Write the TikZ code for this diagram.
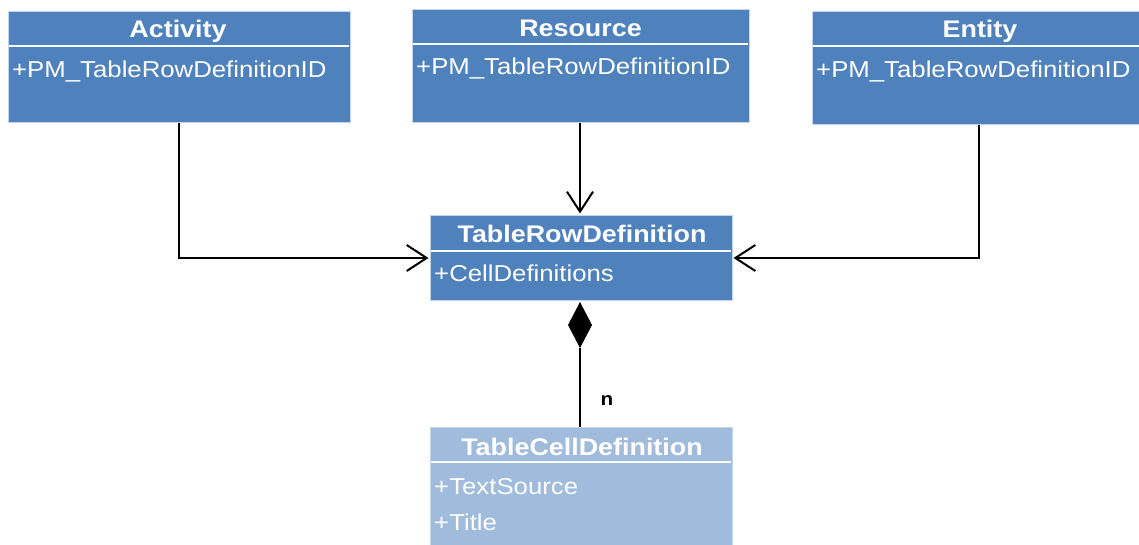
\documentclass[tikz,border=0pt]{standalone}
\usepackage{fontspec}
\setmainfont{Liberation Sans}[FakeStretch=1.12]
\usetikzlibrary{arrows.meta}
\definecolor{umlblue}{HTML}{4F81BD}
\definecolor{umllight}{HTML}{A0BBDC}
\definecolor{umledge}{HTML}{C6D6EA}
\tikzset{
  cls/.style={draw=umledge, line width=0.8pt, fill=umlblue, anchor=north west, inner sep=0pt},
  lcls/.style={cls, fill=umllight},
  divider/.style={draw=white, line width=2pt},
  hdr/.style={text=white, font=\fontsize{24}{24}\selectfont\bfseries, anchor=base, inner sep=0pt},
  attr/.style={text=white, font=\fontsize{23}{23}\selectfont, anchor=base west, inner sep=0pt},
  conn/.style={draw=black, line width=2pt},
  opentip/.style={-{Straight Barb[length=20pt,width=26pt,line width=2pt]}},
  mult/.style={font=\fontsize{18.5}{18.5}\selectfont\bfseries, anchor=base, inner sep=0pt}
}
\begin{document}
\begin{tikzpicture}[x=1pt,y=-1pt]
\useasboundingbox (0,0) rectangle (1139,545);
% Activity
\node[cls, minimum width=342pt, minimum height=111pt] (act) at (8,11) {};
\draw[divider] (9,46) -- (349,46);
\node[hdr] (acth) at (178,37.3) {Activity};
\node[attr] (acta) at (12,77.3) {+PM\_TableRowDefinitionID};
% Resource
\node[cls, minimum width=337pt, minimum height=113pt] (res) at (412,9) {};
\draw[divider] (413,44) -- (748,44);
\node[hdr] (resh) at (580.5,36.7) {Resource};
\node[attr] (resa) at (416,75) {+PM\_TableRowDefinitionID};
% Entity
\node[cls, minimum width=330pt, minimum height=113pt] (ent) at (812,11) {};
\draw[divider] (813,46) -- (1139,46);
\node[hdr] (enth) at (980,37.3) {Entity};
\node[attr] (enta) at (816,77.3) {+PM\_TableRowDefinitionID};
% TableRowDefinition
\node[cls, minimum width=302pt, minimum height=85pt] (trd) at (430,215) {};
\draw[divider] (431,251) -- (731,251);
\node[hdr] (trdh) at (582,242.7) {TableRowDefinition};
\node[attr] (trda) at (434,281.7) {+CellDefinitions};
% TableCellDefinition
\node[lcls, minimum width=302pt, minimum height=120pt] (tcd) at (430,427) {};
\draw[divider] (431,462) -- (731,462);
\node[hdr] (tcdh) at (582,455) {TableCellDefinition};
\node[attr] (tcda) at (434,494) {+TextSource};
\node[attr] (tcdb) at (434,530.7) {+Title};
% connectors
\coordinate (actbend) at (179,258);
\coordinate (entbend) at (979,258);
\coordinate (trdl) at (428.5,258);
\coordinate (trdr) at (733.5,258);
\draw[conn, opentip] (act.south -| actbend) -- (actbend) -- (trdl);
\draw[conn, opentip] (ent.south -| entbend) -- (entbend) -- (trdr);
\draw[conn, opentip] (res.south -| 580,0) -- (580,213.5);
% composition
\coordinate (dtop) at (580,302);
\coordinate (dbot) at (580,348);
\fill[black] (dtop) -- (592,325) -- (dbot) -- (568,325) -- cycle;
\draw[conn] (dbot) -- (tcd.north -| dbot);
\node[mult] (n) at (607,405.7) {n};
\end{tikzpicture}
\end{document}
